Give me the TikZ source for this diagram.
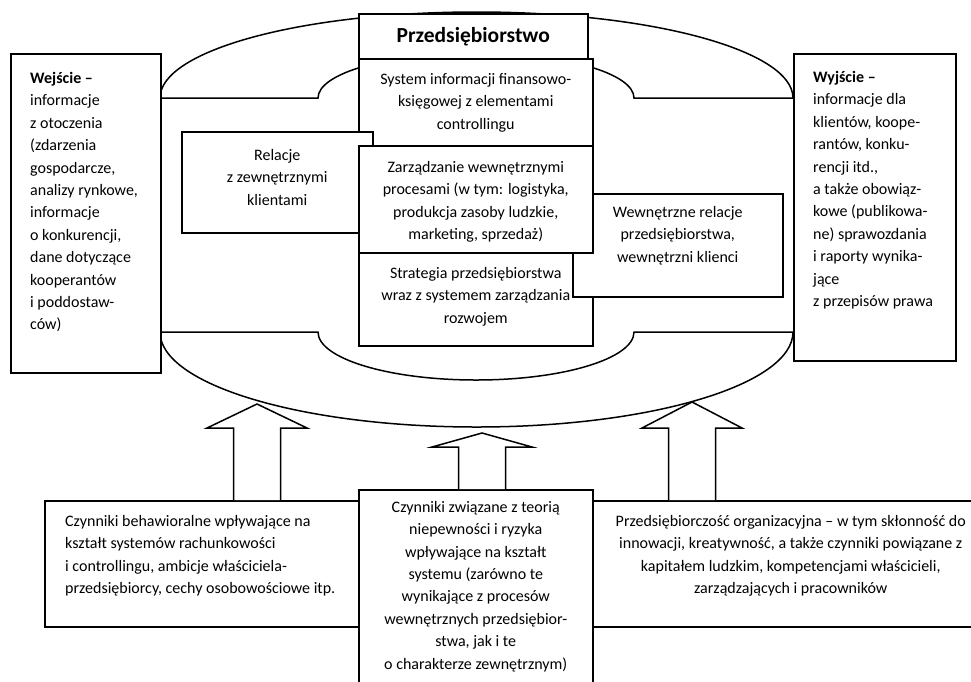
\documentclass[tikz,border=0pt]{standalone}
\usepackage{fontspec}
\setmainfont{Carlito}
\usetikzlibrary{positioning,calc}

\begin{document}
\begin{tikzpicture}[x=1pt,y=-1pt]
\tikzset{box/.style={draw, fill=white, line width=1.5pt, inner sep=0pt, anchor=north west},
  txt/.style={inner sep=0pt, font=\fontsize{16}{22.4}\selectfont},
  ring/.style={line width=1.5pt},
  blockarrow/.style={draw, fill=white, line width=1.5pt, line join=miter}}
\useasboundingbox (0,0) rectangle (971,681);
\clip (0,0) rectangle (971,681);

% the enterprise ring
\draw[ring] (160,98) arc[start angle=180, end angle=360, x radius=316.5, y radius=86]
  -- (634,98) arc[start angle=0, end angle=-180, x radius=158, y radius=45] -- cycle;
\draw[ring] (160,332) arc[start angle=180, end angle=0, x radius=316.5, y radius=95]
  -- (634,332) arc[start angle=0, end angle=180, x radius=158, y radius=48] -- cycle;

% input and output
\node[box, minimum width=150, minimum height=319] (wej) at (10,53) {};
\node[txt, align=left, below right=19pt and 20pt of wej.north west] (wejtxt)
  {\textbf{Wejście –}\\informacje\\z otoczenia\\(zdarzenia\\gospodarcze,\\analizy rynkowe,\\informacje\\o konkurencji,\\dane dotyczące\\kooperantów\\i poddostaw-\\ców)};
\node[box, minimum width=162, minimum height=307] (wyj) at (793,53) {};
\node[txt, align=left, below right=18pt and 20pt of wyj.north west] (wyjtxt)
  {\textbf{Wyjście –}\\informacje dla\\klientów, koope-\\rantów, konku-\\rencji itd.,\\a także obowiąz-\\kowe (publikowa-\\ne) sprawozdania\\i raporty wynika-\\jące\\z przepisów prawa};

% inside the enterprise
\node[box, minimum width=234, minimum height=87] (sys) at (358,58) {};
\node[txt, align=center, below=15pt of sys.north] (systxt)
  {System informacji finansowo-\\księgowej z elementami\\controllingu};
\node[box, minimum width=229, minimum height=45, font=\fontsize{21.5}{24}\selectfont\bfseries] (firma) at (358,13) {Przedsiębiorstwo};
\node[box, minimum width=234, minimum height=93] (strat) at (358,252) {};
\node[txt, align=center, below=15pt of strat.north] (strattxt)
  {Strategia przedsiębiorstwa\\wraz z systemem zarządzania\\rozwojem};
\node[box, minimum width=210, minimum height=103] (wewn) at (572,193) {};
\node[txt, align=center, below=13pt of wewn.north] (wewntxt)
  {Wewnętrzne relacje\\przedsiębiorstwa,\\wewnętrzni klienci};
\node[box, minimum width=191, minimum height=101] (rel) at (181,131) {};
\node[txt, align=center, below=18pt of rel.north] (reltxt)
  {Relacje\\z zewnętrznymi\\klientami};
\node[box, minimum width=234, minimum height=107] (zarz) at (358,145) {};
\node[txt, align=center, below=16pt of zarz.north] (zarztxt)
  {Zarządzanie wewnętrznymi\\procesami (w tym: logistyka,\\produkcja zasoby ludzkie,\\marketing, sprzedaż)};

% factors
\node[box, minimum width=314, minimum height=126] (behav) at (44,500) {};
\node[txt, align=left, below right=15pt and 21pt of behav.north west] (behavtxt)
  {Czynniki behawioralne wpływające na\\kształt systemów rachunkowości\\i controllingu, ambicje właściciela-\\przedsiębiorcy, cechy osobowościowe itp.};
\node[box, minimum width=234, minimum height=211] (ryzyko) at (358,489) {};
\node[txt, align=center, below=12pt of ryzyko.north] (ryzykotxt)
  {Czynniki związane z teorią\\niepewności i ryzyka\\wpływające na kształt\\systemu (zarówno te\\wynikające z procesów\\wewnętrznych przedsiębior-\\stwa, jak i te\\o charakterze zewnętrznym)};
\node[box, minimum width=396, minimum height=126] (przed) at (592,500) {};
\node[txt, align=center, below=15pt of przed.north] (przedtxt)
  {Przedsiębiorczość organizacyjna – w tym skłonność do\\innowacji, kreatywność, a także czynniki powiązane z\\kapitałem ludzkim, kompetencjami właścicieli,\\zarządzających i pracowników};

% arrows into the ring
\coordinate (t1) at (257,404);
\coordinate (t2) at (482,433);
\coordinate (t3) at (692,402);
\draw[blockarrow] ($(t1 |- behav.north)+(-23.5,0)$) -- ++(0,-72) -- ++(-26.5,0) -- (t1)
  -- ++(50,24) -- ++(-26.5,0) -- ++(0,72);
\draw[blockarrow] ($(t2 |- ryzyko.north)+(-23.5,0)$) -- ++(0,-42) -- ++(-26.5,0) -- (t2)
  -- ++(50,14) -- ++(-26.5,0) -- ++(0,42);
\draw[blockarrow] ($(t3 |- przed.north)+(-23.5,0)$) -- ++(0,-72) -- ++(-26.5,0) -- (t3)
  -- ++(50,26) -- ++(-26.5,0) -- ++(0,72);
\end{tikzpicture}
\end{document}
